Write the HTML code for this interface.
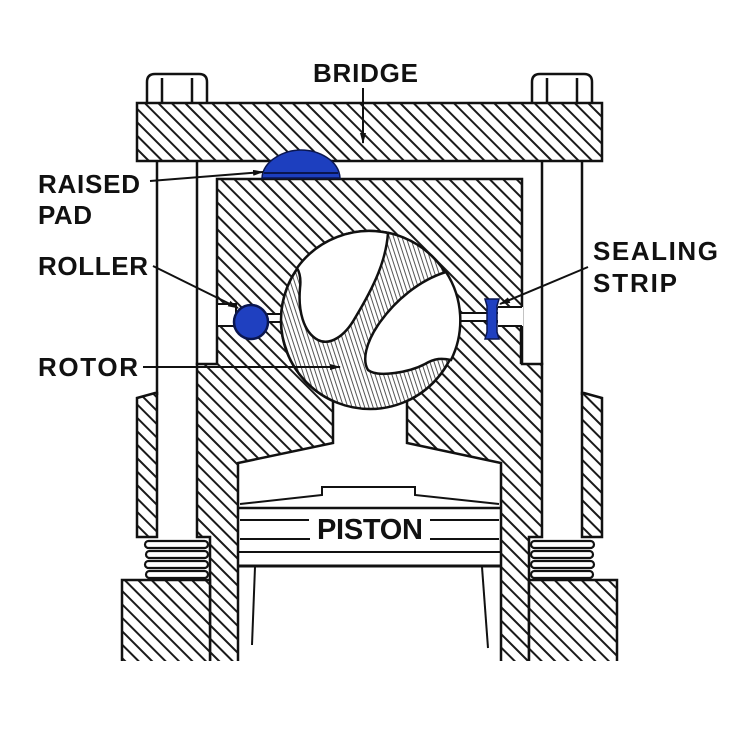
<!DOCTYPE html>
<html><head><meta charset="utf-8"><style>
html,body{margin:0;padding:0;background:#fff;}
svg{display:block;}
text{font-family:"Liberation Sans",Arial,sans-serif;font-weight:bold;fill:#111;}
</style></head><body>
<svg width="742" height="741" viewBox="0 0 742 741" xmlns="http://www.w3.org/2000/svg">
<defs>
<pattern id="h" width="9.5" height="9.5" patternUnits="userSpaceOnUse" patternTransform="rotate(-45)">
<rect width="9.5" height="9.5" fill="#fff"/>
<line x1="1" y1="0" x2="1" y2="9.5" stroke="#1a1a1a" stroke-width="2"/>
</pattern>
<pattern id="r" width="4" height="4" patternUnits="userSpaceOnUse" patternTransform="rotate(-18)">
<rect width="4" height="4" fill="#fff"/>
<line x1="1" y1="0" x2="1" y2="4" stroke="#555" stroke-width="1"/>
</pattern>
<marker id="ar" markerWidth="11" markerHeight="6" refX="10" refY="3" orient="auto" markerUnits="userSpaceOnUse"><path d="M0,0 L11,3 L0,6 Z" fill="#111"/></marker>
<clipPath id="cl"><rect x="0" y="0" width="742" height="661"/></clipPath>
</defs>

<!-- bolt heads -->
<g fill="#fff" stroke="#111" stroke-width="2.5">
<path d="M147,104 V82 Q147,74 155,74 H199 Q207,74 207,82 V104"/>
<line x1="162" y1="78" x2="162" y2="103"/><line x1="192" y1="78" x2="192" y2="103"/>
<path d="M532,104 V82 Q532,74 540,74 H584 Q592,74 592,82 V104"/>
<line x1="547" y1="78" x2="547" y2="103"/><line x1="577" y1="78" x2="577" y2="103"/>
</g>

<!-- bridge -->
<rect x="137" y="103" width="465" height="58" fill="url(#h)" stroke="#111" stroke-width="2.5"/>

<!-- rods -->
<g stroke="#111" stroke-width="2.5">
<line x1="157" y1="161" x2="157" y2="395"/>
<line x1="197" y1="161" x2="197" y2="365"/>
<line x1="542" y1="161" x2="542" y2="365"/>
<line x1="582" y1="161" x2="582" y2="395"/>
</g>

<!-- body -->
<g clip-path="url(#cl)" stroke="#111" stroke-width="2.5">
<path d="M217,179 H522 V364 H542 V537 H529 V668 H501 V463 L407,443 V401 A89 89 0 1 0 333,401 V443 L238,463 V668 H210 V537 H197 V364 H217 Z" fill="url(#h)"/>
<rect x="122" y="580" width="88" height="95" fill="url(#h)"/>
<rect x="529" y="580" width="88" height="95" fill="url(#h)"/>
</g>

<!-- sleeves -->
<g stroke="#111" stroke-width="2.5" fill="url(#h)">
<path d="M137,398 L155,393 H157 V537 H137 Z"/>
<path d="M602,398 L584,393 H582 V537 H602 Z"/>
</g>

<!-- springs -->
<g fill="#fff" stroke="#111" stroke-width="2.2">
<rect x="145" y="541" width="63" height="7" rx="3.5"/>
<rect x="146" y="551" width="62" height="7" rx="3.5"/>
<rect x="145" y="561" width="63" height="7" rx="3.5"/>
<rect x="146" y="571" width="62" height="7" rx="3.5"/>
<rect x="531" y="541" width="63" height="7" rx="3.5"/>
<rect x="531" y="551" width="62" height="7" rx="3.5"/>
<rect x="531" y="561" width="63" height="7" rx="3.5"/>
<rect x="531" y="571" width="62" height="7" rx="3.5"/>
</g>

<!-- slots -->
<rect x="217" y="304" width="19" height="22" fill="#fff" stroke="#111" stroke-width="2"/>
<rect x="236" y="314" width="54" height="8" fill="#fff"/>
<line x1="236" y1="314" x2="290" y2="314" stroke="#111" stroke-width="2"/>
<line x1="236" y1="322" x2="290" y2="322" stroke="#111" stroke-width="2"/>
<rect x="452" y="313" width="48" height="8" fill="#fff"/>
<line x1="452" y1="313" x2="500" y2="313" stroke="#111" stroke-width="2"/>
<line x1="452" y1="321" x2="500" y2="321" stroke="#111" stroke-width="2"/>
<rect x="498" y="307" width="25" height="19" fill="#fff"/>
<line x1="498" y1="307" x2="522" y2="307" stroke="#111" stroke-width="2"/>
<line x1="498" y1="326" x2="522" y2="326" stroke="#111" stroke-width="2"/>
<line x1="521" y1="326" x2="521" y2="364" stroke="#111" stroke-width="2.5"/>

<!-- rotor -->
<circle cx="370" cy="320" r="89" fill="url(#r)" stroke="#111" stroke-width="2.5"/>
<path d="M388,233 C386,260 375,285 355,318 C345,336 330,346 318,340 C303,332 298,310 300,288 C301,280 300,273 297,268 A89 89 0 0 1 388,233 Z" fill="#fff" stroke="#111" stroke-width="2.5"/>
<path d="M446,272 C420,280 395,300 378,325 C366,343 362,360 368,370 C378,378 410,372 425,364 C435,358 442,358 451,360 A89 89 0 0 0 446,272 Z" fill="#fff" stroke="#111" stroke-width="2.5"/>

<!-- roller & sealing strip -->
<circle cx="251" cy="322" r="17" fill="#1f40c0" stroke="#0a1650" stroke-width="2.5"/>
<path d="M485,299 H499 L497,306 V332 L499,339 H485 L487,332 V306 Z" fill="#1f40c0" stroke="#0a1650" stroke-width="1.5"/>

<!-- raised pad -->
<path d="M262,178 C263,160 285,150 301,150 C318,150 339,160 340,178 Z" fill="#1d3fbf" stroke="#0a1650" stroke-width="1.5"/>
<line x1="264" y1="173" x2="338" y2="173" stroke="#0a1650" stroke-width="2"/>

<!-- piston -->
<g stroke="#111" fill="none">
<path d="M240,504 L322,495 V487 H415 V495 L499,504" stroke-width="2"/>
<line x1="239" y1="508" x2="500" y2="508" stroke-width="2.5"/>
<line x1="240" y1="520" x2="309" y2="520" stroke-width="2"/>
<line x1="430" y1="520" x2="499" y2="520" stroke-width="2"/>
<line x1="240" y1="539" x2="310" y2="539" stroke-width="2"/>
<line x1="430" y1="539" x2="499" y2="539" stroke-width="2"/>
<line x1="239" y1="552" x2="500" y2="552" stroke-width="2"/>
<line x1="239" y1="566" x2="500" y2="566" stroke-width="3"/>
<line x1="255" y1="567" x2="252" y2="645" stroke-width="2"/>
<line x1="482" y1="567" x2="488" y2="648" stroke-width="2"/>
</g>
<text x="317" y="539" font-size="29" textLength="106">PISTON</text>

<!-- leaders -->
<g stroke="#111" stroke-width="2" marker-end="url(#ar)">
<line x1="363" y1="88" x2="363" y2="143"/>
<line x1="150" y1="181" x2="263" y2="172"/>
<line x1="153" y1="266" x2="238" y2="308"/>
<line x1="143" y1="367" x2="340" y2="367"/>
<line x1="588" y1="267" x2="500" y2="304"/>
</g>

<!-- labels -->
<g font-size="26">
<text x="313" y="82" textLength="105">BRIDGE</text>
<text x="38" y="193" textLength="102">RAISED</text>
<text x="38" y="224" textLength="54">PAD</text>
<text x="38" y="275" textLength="110">ROLLER</text>
<text x="38" y="376" textLength="100">ROTOR</text>
<text x="593" y="260" textLength="125">SEALING</text>
<text x="593" y="292" textLength="84">STRIP</text>
</g>
</svg>
</body></html>
